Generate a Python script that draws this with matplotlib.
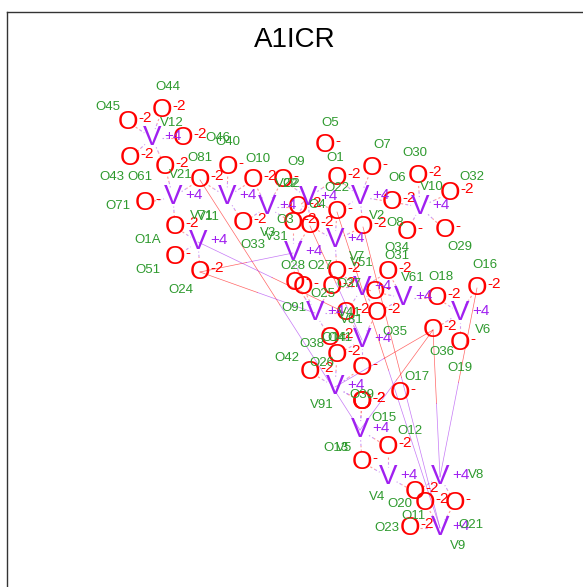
import numpy as np
import matplotlib
matplotlib.use("Agg")
import matplotlib.pyplot as plt

plt.rcParams['font.family'] = ['Liberation Sans', 'DejaVu Sans']

# V atoms: name, x, y, label x, label y (picture coordinates)
v_names = ["V12", "V21", "V71", "V3", "V22", "V2", "V10", "V11", "V31", "V7",
           "V51", "V61", "V6", "V81", "V41", "V91", "V5", "V4", "V8", "V9"]
v_x = [152, 173, 227, 267, 308, 360, 420, 198, 293, 335,
       362, 403, 460, 315, 362, 335, 360, 388, 440, 440]
v_y = [138, 197, 197, 207, 198, 197, 207, 242, 253, 240,
       288, 298, 313, 313, 340, 387, 430, 477, 477, 528]
v_lx = [172, 181, 202, 268, 287, 377, 432, 208, 277, 357,
        362, 413, 483, 352, 350, 322, 344, 377, 476, 458]
v_ly = [123, 175, 216, 233, 184, 216, 187, 217, 237, 257,
        263, 278, 330, 320, 313, 405, 448, 497, 475, 546]

# O atoms: name, x, y, charge, label x, label y
o_names = ["O44", "O45", "O46", "O43", "O61", "O81", "O40", "O10", "O9", "O71",
           "O1A", "O33", "O51", "O24", "O5", "O7", "O30", "O32", "O1", "O6",
           "O4", "O22", "O3", "O2", "O8", "O34", "O29", "O31", "O27", "O28",
           "O25", "O37", "O41", "O18", "O16", "O35", "O91", "O36", "O19", "O14",
           "O38", "O42", "O26", "O17", "O39", "O15", "O12", "O13", "O20", "O11",
           "O21", "O23"]
o_x = [162, 128, 183, 130, 165, 200, 228, 253, 283, 145,
       175, 243, 175, 200, 325, 372, 418, 450, 337, 392,
       298, 337, 293, 310, 363, 407, 445, 388, 337, 295,
       303, 332, 375, 437, 477, 377, 346, 433, 460, 330,
       337, 310, 362, 400, 362, 362, 388, 362, 415, 425,
       455, 410]
o_y = [110, 122, 138, 158, 167, 180, 167, 180, 180, 203,
       227, 223, 257, 272, 145, 168, 176, 193, 178, 202,
       207, 212, 223, 226, 227, 232, 230, 272, 272, 283,
       287, 287, 292, 298, 288, 313, 313, 330, 343, 338,
       355, 372, 368, 393, 402, 402, 447, 462, 492, 503,
       503, 528]
o_charge = ["-2", "-2", "-2", "-2", "-2", "-2", "-", "-2", "-", "-",
            "-2", "-2", "-", "-2", "-", "-", "-2", "-2", "-2", "-2",
            "-2", "-", "-2", "-2", "-2", "-", "-", "-2", "-2", "-",
            "-", "-2", "-", "-2", "-2", "-2", "-2", "-2", "-", "-2",
            "-2", "-2", "-", "-", "-2", "-2", "-2", "-", "-2", "-2",
            "-", "-2"]
o_lx = [168, 108, 218, 112, 140, 200, 228, 258, 296, 118,
        148, 253, 148, 181, 330, 382, 415, 472, 335, 397,
        317, 337, 285, 291, 395, 397, 460, 397, 320, 293,
        323, 349, 340, 441, 485, 395, 294, 442, 460, 334,
        312, 287, 322, 417, 362, 384, 410, 336, 400, 413,
        471, 387]
o_ly = [87, 107, 138, 177, 177, 158, 142, 159, 162, 206,
        240, 245, 270, 290, 123, 145, 153, 177, 158, 178,
        205, 188, 220, 184, 223, 248, 247, 256, 266, 266,
        294, 284, 338, 277, 265, 332, 308, 352, 368, 338,
        344, 358, 363, 377, 395, 418, 431, 448, 504, 516,
        525, 528]

# long bonds across the cell (O name, V name)
long_bonds = [("O81", "V5"), ("O24", "V81"), ("O24", "V31"), ("O91", "V11"),
              ("O22", "V9"), ("O8", "V9"), ("O36", "V8"), ("O16", "V8"),
              ("O36", "V5"), ("O36", "V91"), ("O2", "V41")]

bond_cut = 40

red = '#ff0000'
purple = '#a020f0'
green = '#2e9a2e'

fig = plt.figure(figsize=(5.83, 5.87), dpi=100)
ax = fig.add_axes([7 / 583, (587 - 600) / 587, 600 / 583, (600 - 12) / 587])
ax.set_xlim(7, 607)
ax.set_ylim(600, 12)
ax.set_xticks([])
ax.set_yticks([])
for s in ax.spines.values():
    s.set_color('#333333')
    s.set_linewidth(1)

vpos = {n: (x, y) for n, x, y in zip(v_names, v_x, v_y)}
opos = {n: (x, y) for n, x, y in zip(o_names, o_x, o_y)}

# short coordination bonds, dashed, between glyphs
for on, (ox, oy) in opos.items():
    for vn, (vx, vy) in vpos.items():
        d = np.hypot(vx - ox, vy - oy)
        if d < bond_cut:
            p = lambda t: (ox + (vx - ox) * t, oy + (vy - oy) * t)
            a, m, b = p(0.32), p(0.5), p(0.68)
            ax.plot([a[0], m[0]], [a[1], m[1]], color='#ff8080', lw=0.8,
                    dashes=(2, 2), alpha=0.8, zorder=1)
            ax.plot([m[0], b[0]], [m[1], b[1]], color='#c080f0', lw=0.8,
                    dashes=(2, 2), alpha=0.8, zorder=1)

# long bonds, solid thin, half red / half purple
for on, vn in long_bonds:
    ox, oy = opos[on]
    vx, vy = vpos[vn]
    mx, my = (ox + vx) / 2, (oy + vy) / 2
    ax.plot([ox, mx], [oy, my], color=red, lw=0.5, alpha=0.6, zorder=1)
    ax.plot([mx, vx], [my, vy], color=purple, lw=0.5, alpha=0.6, zorder=1)

for x, y, c in zip(o_x, o_y, o_charge):
    ax.text(x, y, "O", color=red, fontsize=19, ha='center', va='center', zorder=3)
    ax.text(x + 10, y - 4, c, color=red, fontsize=11, ha='left', va='center', zorder=3)
for x, y in zip(v_x, v_y):
    ax.text(x, y, "V", color=purple, fontsize=20, ha='center', va='center', zorder=3)
    ax.text(x + 12, y - 2, "+4", color=purple, fontsize=11, ha='left', va='center', zorder=3)

for n, x, y in zip(o_names, o_lx, o_ly):
    ax.text(x, y, n, color=green, fontsize=9.5, ha='center', va='center', zorder=4)
for n, x, y in zip(v_names, v_lx, v_ly):
    ax.text(x, y, n, color=green, fontsize=9.5, ha='center', va='center', zorder=4)

ax.text(295, 40, "A1ICR", fontsize=20, ha='center', va='center')

fig.savefig("out.png", dpi=100)
